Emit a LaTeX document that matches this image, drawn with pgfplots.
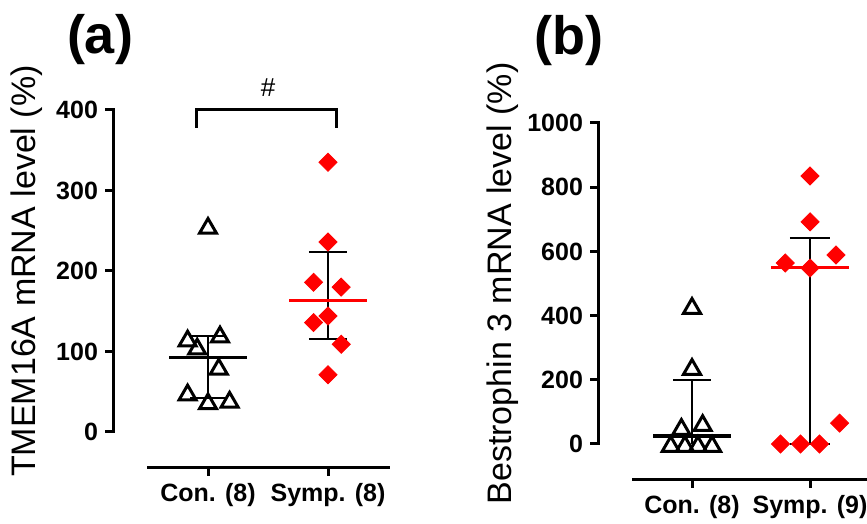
\documentclass[border=0pt]{standalone}
\usepackage{fontspec}
\setmainfont{Liberation Sans}
\usepackage{pgfplots}
\pgfplotsset{compat=1.18}
\definecolor{pred}{RGB}{255,0,0}
\pgfplotsset{
  prism/.style={
    scale only axis,
    clip=false,
    axis x line=bottom,
    axis y line=left,
    axis line style={-, line width=1.5pt, line cap=rect},
    axis x line shift=18pt,
    axis y line shift=17.5pt,
    tick align=outside,
    major tick length=4pt,
    every tick/.style={black, line width=1.5pt},
    minor tick num=0,
    xtick={0,1},
    xmin=-0.5,
    ymin=0,
    /pgf/number format/assume math mode=true,
    /pgf/number format/1000 sep={},
    tick label style={font=\fontsize{12.5}{14}\selectfont\bfseries},
    ylabel style={font=\fontsize{17}{20}\selectfont, anchor=center},
    title style={font=\fontsize{27}{30}\selectfont\bfseries, anchor=center},
  },
  con/.style={black, line width=1.5pt, only marks, mark=triangle, mark size=4.9pt, mark options={yshift=-1.2pt}},
  symp/.style={pred, only marks, mark=square*, mark size=3.2pt, mark options={rotate=45, draw=none, fill=pred}},
  whisk/.style={black, line width=1pt, mark=none},
  med/.style={line width=1.6pt, mark=none},
}
\begin{document}
\begin{tikzpicture}
\path[use as bounding box] (0,0) rectangle (433.5pt,262pt);
% ---------------- panel (a)
\begin{axis}[prism,
  at={(74pt,46pt)}, anchor=south west,
  width=120pt, height=161pt,
  xmax=1.5, ymax=400,
  ytick={0,100,200,300,400},
  xticklabels={Con. (8), Symp. (8)},
  ylabel={TMEM16A mRNA level (\%)},
  ylabel style={at={(axis description cs:-0.504,0.5)}},
  title={(a)},
  title style={at={(axis description cs:-0.2,1.18)}},
]
\addplot[con] coordinates {(0,256) (-0.17,116) (0.10,121) (-0.09,106) (0.09,81) (-0.17,49) (0,38) (0.18,40)};
\addplot[symp] coordinates {(1,335) (1,236) (0.88,186) (1.11,180) (1,144) (0.88,136) (1.11,109) (1,71)};
% Con median / IQR
\addplot[whisk] coordinates {(0,42) (0,119)};
\addplot[whisk] coordinates {(-0.15,119) (0.15,119)};
\addplot[whisk] coordinates {(-0.15,42) (0.15,42)};
\addplot[med, black] coordinates {(-0.325,93) (0.325,93)};
% Symp median / IQR
\addplot[whisk] coordinates {(1,116) (1,224)};
\addplot[whisk] coordinates {(0.84,224) (1.16,224)};
\addplot[whisk] coordinates {(0.84,116) (1.16,116)};
\addplot[med, pred] coordinates {(0.675,163) (1.325,163)};
% significance bracket
\addplot[black, line width=1.5pt, mark=none, line join=miter] coordinates {(-0.1,378) (-0.1,400) (1.067,400) (1.067,378)};
\node[font=\fontsize{13}{14}\selectfont] at (axis cs:0.5,428) {\#};
\end{axis}
% ---------------- panel (b)
\begin{axis}[prism,
  at={(316.5pt,40pt)}, anchor=south west,
  width=116.25pt, height=160.5pt,
  xmax=1.47, ymax=1000,
  ytick={0,200,400,600,800,1000},
  xticklabels={Con. (8), Symp. (9)},
  ylabel={Bestrophin 3 mRNA level (\%)},
  ylabel style={at={(axis description cs:-0.559,0.5)}},
  title={(b)},
  title style={at={(axis description cs:-0.275,1.22)}},
]
% Con median / IQR
\addplot[whisk] coordinates {(0,0) (0,200)};
\addplot[whisk] coordinates {(-0.16,200) (0.16,200)};
\addplot[med, black] coordinates {(-0.33,25) (0.33,25)};
\addplot[con] coordinates {(0,430) (0,240) (-0.09,53) (0.09,65) (-0.18,0) (-0.06,0) (0.05,0) (0.17,0)};
% Symp median / IQR
\addplot[whisk] coordinates {(1,0) (1,642)};
\addplot[whisk] coordinates {(0.83,642) (1.17,642)};
\addplot[symp] coordinates {(1,835) (1,692) (1.22,589) (0.79,564) (1,548) (1.25,65) (0.75,0) (0.92,0) (1.08,0)};
\addplot[whisk] coordinates {(0.83,0) (1.17,0)};
\addplot[med, pred] coordinates {(0.67,551) (1.33,551)};
\end{axis}
\end{tikzpicture}
\end{document}
